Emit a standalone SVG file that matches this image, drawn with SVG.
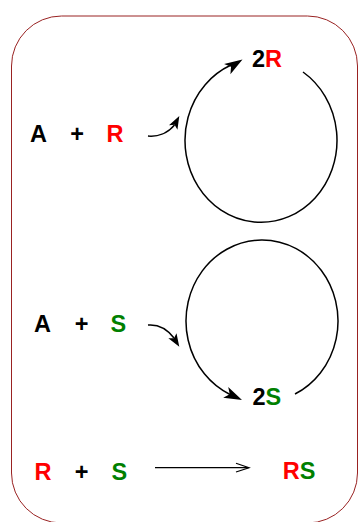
<svg xmlns="http://www.w3.org/2000/svg" xmlns:xlink="http://www.w3.org/1999/xlink" width="358" height="522" viewBox="0 0 358 522">
<style>
.t{font-family:"Liberation Sans",Arial,sans-serif;font-weight:bold;font-size:23.5px;fill:#000}
.r{fill:#FF0000}
.g{fill:#008000}
.c{fill:none;stroke:#000;stroke-width:1.5}
.s{fill:none;stroke:#000;stroke-width:1.2}
.h{fill:#000;stroke:none}
</style>
<defs>
<path id="big" d="M0,0 L-18,-6 L-13.5,0 L-18,6 Z"/>
<path id="small" d="M0,0 L-13,-4.8 L-10,0 L-13,4.8 Z"/>
</defs>
<rect id="frame" x="11.5" y="16" width="346" height="507" rx="50" ry="50" fill="#fff" stroke="#992222" stroke-width="1"/>
<g id="connectors">
<path class="c" d="M303,72 A76,82 0 1,1 231,65"/>
<use xlink:href="#big" class="h" transform="translate(242.5,59.5) rotate(-32)"/>
<path class="c" d="M148,136 C158,137 168,133 174.5,125"/>
<use xlink:href="#small" class="h" transform="translate(179.3,116) rotate(-62)"/>
<path class="c" d="M295,394 A76,81 0 1,0 230,394.5"/>
<use xlink:href="#big" class="h" transform="translate(242,400) rotate(25)"/>
<path class="c" d="M148,325 C160,324 168,330 174,338"/>
<use xlink:href="#small" class="h" transform="translate(179.3,346.7) rotate(58)"/>
<path class="s" d="M155,467.7 H248.5"/>
<path class="s" d="M236,463.3 L249,467.7 L236,472"/>
</g>
<g id="reactants1"><text class="t" x="30" y="141.5">A</text><text class="t" x="77" y="141.5" text-anchor="middle">+</text><text class="t r" x="106.5" y="141.5">R</text></g>
<g id="product1"><text class="t" x="252" y="66.5">2<tspan class="r">R</tspan></text></g>
<g id="reactants2"><text class="t" x="34" y="331.5">A</text><text class="t" x="81.7" y="331.5" text-anchor="middle">+</text><text class="t g" x="110.6" y="331.5">S</text></g>
<g id="product2"><text class="t" x="252.5" y="405">2<tspan class="g">S</tspan></text></g>
<g id="reactants3"><text class="t r" x="34.4" y="480">R</text><text class="t" x="81.7" y="480" text-anchor="middle">+</text><text class="t g" x="111.5" y="480">S</text></g>
<g id="product3"><text class="t" x="282.7" y="479"><tspan class="r">R</tspan><tspan class="g">S</tspan></text></g>
</svg>
